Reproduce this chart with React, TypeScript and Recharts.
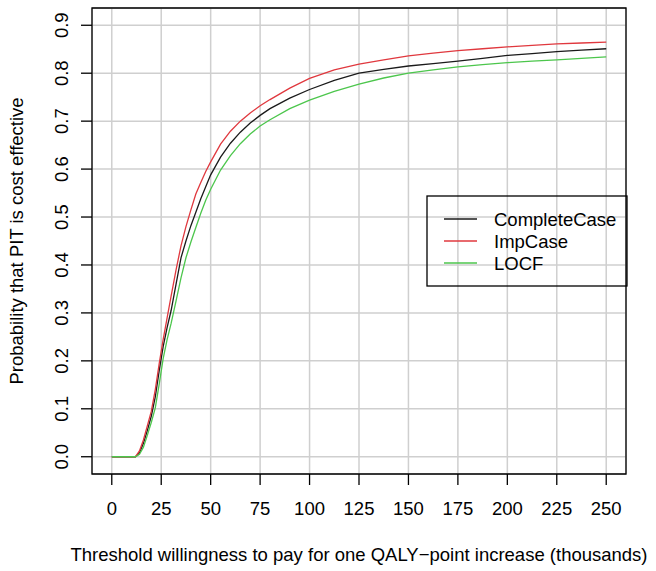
import React from 'react';
import { LineChart, Line, XAxis, YAxis, CartesianGrid, ReferenceArea, Legend } from 'recharts';

const xValues = [0, 5, 10, 12, 14, 16, 18, 20, 22, 24, 26, 28, 30, 32.5, 35, 37.5, 40, 42.5, 45, 47.5, 50, 55, 60, 65, 70, 75, 80, 90, 100, 112.5, 125, 137.5, 150, 162.5, 175, 187.5, 200, 212.5, 225, 237.5, 250];
const completeCase = [0, 0, 0, 0, 0.008, 0.028, 0.055, 0.085, 0.125, 0.18, 0.23, 0.27, 0.305, 0.36, 0.415, 0.45, 0.482, 0.51, 0.538, 0.563, 0.588, 0.625, 0.654, 0.677, 0.696, 0.712, 0.726, 0.748, 0.766, 0.785, 0.8, 0.808, 0.815, 0.82, 0.825, 0.831, 0.837, 0.841, 0.845, 0.848, 0.851];
const impCase = [0, 0, 0, 0, 0.012, 0.035, 0.065, 0.095, 0.14, 0.195, 0.245, 0.29, 0.335, 0.39, 0.44, 0.48, 0.515, 0.548, 0.572, 0.595, 0.615, 0.652, 0.679, 0.7, 0.717, 0.732, 0.745, 0.769, 0.789, 0.807, 0.819, 0.828, 0.836, 0.842, 0.847, 0.851, 0.855, 0.858, 0.861, 0.863, 0.865];
const locf = [0, 0, 0, 0, 0.005, 0.02, 0.045, 0.072, 0.102, 0.152, 0.205, 0.245, 0.278, 0.325, 0.373, 0.415, 0.448, 0.478, 0.508, 0.535, 0.558, 0.598, 0.628, 0.653, 0.673, 0.69, 0.703, 0.726, 0.744, 0.762, 0.777, 0.79, 0.8, 0.807, 0.813, 0.818, 0.822, 0.825, 0.828, 0.831, 0.834];

const seriesNames = ['CompleteCase', 'ImpCase', 'LOCF'];
const seriesKeys = ['cc', 'imp', 'locf'];
const seriesColors = ['#1a1a1a', '#e0383e', '#4cc64c'];

const xTicks = [0, 25, 50, 75, 100, 125, 150, 175, 200, 225, 250];
const yTicks = [0, 0.1, 0.2, 0.3, 0.4, 0.5, 0.6, 0.7, 0.8, 0.9];
const xDomain = [-10, 260];
const yDomain = [-0.036, 0.936];

const xTitle = 'Threshold willingness to pay for one QALY\u2212point increase (thousands)';
const yTitle = 'Probability that PIT is cost effective';

const data = xValues.map((x, i) => ({ x, cc: completeCase[i], imp: impCase[i], locf: locf[i] }));

const FONT = '"Liberation Sans", Arial, Helvetica, sans-serif';
const FS = 18.5;

const XTick = (props: any) => {
  const { x, y, payload } = props;
  return (
    <text x={x} y={y + 28} textAnchor="middle" fontFamily={FONT} fontSize={FS} fill="#000">
      {payload.value}
    </text>
  );
};

const YTick = (props: any) => {
  const { x, y, payload } = props;
  const tx = x - 11;
  return (
    <text x={tx} y={y} textAnchor="middle" fontFamily={FONT} fontSize={FS} fill="#000" transform={`rotate(-90, ${tx}, ${y})`}>
      {Number(payload.value).toFixed(1)}
    </text>
  );
};

const LegendBox = () => (
  <svg width={202} height={92} style={{ display: 'block' }}>
    <rect x={1} y={1} width={200} height={90} fill="none" stroke="#000" strokeWidth={1.3} />
    {seriesNames.map((n, i) => (
      <g key={n}>
        <line x1={18} x2={51} y1={24 + i * 22} y2={24 + i * 22} stroke={seriesColors[i]} strokeWidth={1.3} />
        <text x={68} y={24 + i * 22 + 6.7} fontFamily={FONT} fontSize={FS} fill="#000">{n}</text>
      </g>
    ))}
  </svg>
);

export default function App() {
  return (
    <div style={{ position: 'absolute', left: 0, top: 0, background: '#fff' }}>
      <LineChart width={656} height={571} data={data} margin={{ top: 8, right: 30, left: 0, bottom: 0 }}>
        <CartesianGrid stroke="#cfcfcf" strokeWidth={1.5} />
        <XAxis
          dataKey="x"
          type="number"
          domain={xDomain}
          ticks={xTicks}
          allowDataOverflow
          height={97}
          axisLine={false}
          tickSize={11}
          tickLine={{ stroke: '#000', strokeWidth: 1.3 }}
          tick={<XTick />}
          interval={0}
          label={{
            content: (p: any) => {
              const vb = p.viewBox;
              return (
                <text x={vb.x + vb.width / 2} y={vb.y + 86.5} textAnchor="middle" fontFamily={FONT} fontSize={FS} fill="#000">
                  {xTitle}
                </text>
              );
            },
          }}
        />
        <YAxis
          type="number"
          domain={yDomain}
          ticks={yTicks}
          allowDataOverflow
          width={92}
          axisLine={false}
          tickSize={11}
          tickLine={{ stroke: '#000', strokeWidth: 1.3 }}
          tick={<YTick />}
          interval={0}
          label={{
            content: (p: any) => {
              const vb = p.viewBox;
              const cx = 22.5;
              const cy = vb.y + vb.height / 2;
              return (
                <text x={cx} y={cy} textAnchor="middle" fontFamily={FONT} fontSize={FS} fill="#000" transform={`rotate(-90, ${cx}, ${cy})`}>
                  {yTitle}
                </text>
              );
            },
          }}
        />
        {seriesKeys.map((k, i) => (
          <Line key={k} dataKey={k} name={seriesNames[i]} type="linear" stroke={seriesColors[i]} strokeWidth={1.3} dot={false} activeDot={false} isAnimationActive={false} />
        ))}
        <ReferenceArea x1={xDomain[0]} x2={xDomain[1]} y1={yDomain[0]} y2={yDomain[1]} fill="none" fillOpacity={0} stroke="#000" strokeWidth={1.3} strokeOpacity={1} ifOverflow="visible" />
        <Legend
          content={<LegendBox />}
          layout="horizontal"
          align="center"
          verticalAlign="middle"
          wrapperStyle={{ position: 'absolute', left: 426, top: 195, width: 202, height: 92 }}
        />
      </LineChart>
    </div>
  );
}
